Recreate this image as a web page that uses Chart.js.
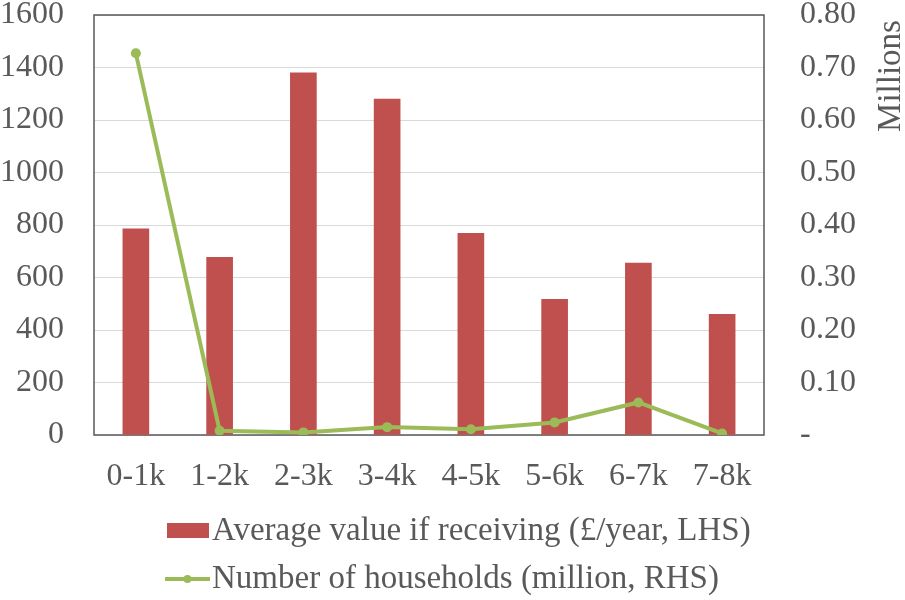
<!DOCTYPE html>
<html>
<head>
<meta charset="utf-8">
<script src="https://cdn.jsdelivr.net/npm/chart.js@4/dist/chart.umd.min.js"></script>
<style>
  html, body { margin: 0; padding: 0; background: #ffffff; }
  #wrap { width: 905px; height: 600px; position: relative; }
</style>
</head>
<body>
<div id="wrap"><canvas id="chart" width="905" height="600"></canvas></div>
<script>
// Income bands
const bands = ['0-1k', '1-2k', '2-3k', '3-4k', '4-5k', '5-6k', '6-7k', '7-8k'];
// Average value if receiving, £/year (left axis)
const avgValue = [785, 677, 1380, 1280, 768, 517, 655, 460];
// Number of households, millions (right axis)
const households = [0.727, 0.008, 0.005, 0.015, 0.011, 0.024, 0.062, 0.003];

const barLabel = 'Average value if receiving (£/year, LHS)';
const lineLabel = 'Number of households (million, RHS)';

const FONT = '"Liberation Serif", "Times New Roman", serif';
const TEXT = '#595959';
const RED = '#C0504D';
const GREEN = '#9BBB59';
const TICK_SIZE = 32;

// Frame around the plot area, axis caption and the two-row legend
const decorations = {
  id: 'decorations',
  beforeDatasetsDraw(chart) {
    const { ctx, chartArea: a } = chart;
    ctx.save();
    ctx.strokeStyle = '#595959';
    ctx.lineWidth = 1.5;
    ctx.strokeRect(a.left, a.top, a.right - a.left, a.bottom - a.top);
    ctx.restore();
  },
  afterDraw(chart) {
    const { ctx } = chart;
    ctx.save();
    ctx.fillStyle = TEXT;
    ctx.font = '33px ' + FONT;
    // Right-axis caption, rotated to read upwards
    ctx.save();
    ctx.translate(891, 76);
    ctx.rotate(-Math.PI / 2);
    ctx.textAlign = 'center';
    ctx.textBaseline = 'middle';
    ctx.fillText('Millions', 0, 0);
    ctx.restore();

    // Legend
    ctx.textAlign = 'left';
    ctx.textBaseline = 'middle';
    ctx.fillStyle = RED;
    ctx.fillRect(167, 523, 42, 15);
    ctx.fillStyle = TEXT;
    ctx.fillText(barLabel, 212, 531);

    ctx.strokeStyle = GREEN;
    ctx.lineWidth = 4;
    ctx.beginPath();
    ctx.moveTo(165, 579);
    ctx.lineTo(210, 579);
    ctx.stroke();
    ctx.fillStyle = GREEN;
    ctx.beginPath();
    ctx.arc(187.5, 579, 4, 0, Math.PI * 2);
    ctx.fill();
    ctx.fillStyle = TEXT;
    ctx.fillText(lineLabel, 212, 579);
    ctx.restore();
  }
};

function noEdgePadding(s) {
  s.paddingTop = 0;
  s.paddingBottom = 0;
}

new Chart(document.getElementById('chart'), {
  data: {
    labels: bands,
    datasets: [
      {
        type: 'line',
        label: lineLabel,
        data: households,
        yAxisID: 'y2',
        borderColor: GREEN,
        backgroundColor: GREEN,
        borderWidth: 4,
        pointRadius: 5,
        pointBackgroundColor: GREEN,
        pointBorderWidth: 0,
        tension: 0,
        order: 0
      },
      {
        type: 'bar',
        label: barLabel,
        data: avgValue,
        yAxisID: 'y',
        backgroundColor: RED,
        barThickness: 26,
        order: 1
      }
    ]
  },
  plugins: [decorations],
  options: {
    responsive: false,
    animation: false,
    events: [],
    layout: { padding: { top: 15, bottom: 105, left: 0, right: 0 } },
    plugins: {
      legend: { display: false },
      tooltip: { enabled: false }
    },
    scales: {
      x: {
        grid: { display: false, drawTicks: false },
        border: { display: false },
        ticks: { color: TEXT, font: { family: FONT, size: TICK_SIZE }, padding: 22, maxRotation: 0 },
        afterFit(s) { s.height = 60; s.paddingLeft = 0; s.paddingRight = 0; }
      },
      y: {
        position: 'left',
        min: 0, max: 1600,
        grid: { color: '#D9D9D9', lineWidth: 1, drawTicks: false },
        border: { display: false },
        ticks: {
          stepSize: 200, color: TEXT, font: { family: FONT, size: TICK_SIZE }, padding: 30,
          callback: v => String(v)
        },
        afterFit(s) { s.width = 94; noEdgePadding(s); }
      },
      y2: {
        position: 'right',
        min: 0, max: 0.8,
        grid: { display: false, drawTicks: false },
        border: { display: false },
        ticks: {
          stepSize: 0.1,
          color: TEXT,
          font: { family: FONT, size: TICK_SIZE },
          padding: 36,
          callback: v => (Math.abs(v) < 1e-9 ? '-' : Number(v).toFixed(2))
        },
        afterFit(s) { s.width = 141; noEdgePadding(s); }
      }
    }
  }
});
</script>
</body>
</html>
